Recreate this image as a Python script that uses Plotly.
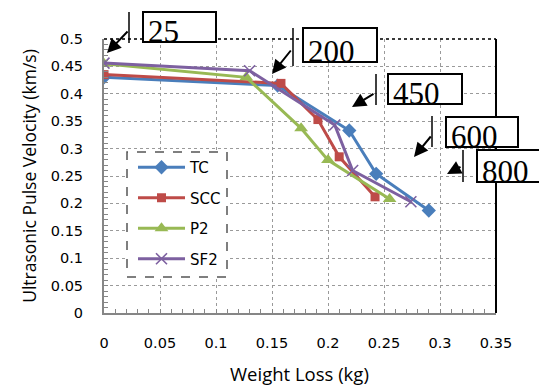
import plotly.graph_objects as go

# ---------------- data ----------------
series_names = ["TC", "SCC", "P2", "SF2"]
tc_x = [0, 0.155, 0.219, 0.243, 0.290]
tc_y = [0.430, 0.415, 0.333, 0.254, 0.187]
scc_x = [0, 0.158, 0.191, 0.210, 0.242]
scc_y = [0.435, 0.419, 0.353, 0.285, 0.212]
p2_x = [0, 0.127, 0.176, 0.200, 0.255]
p2_y = [0.455, 0.430, 0.337, 0.279, 0.208]
sf2_x = [0, 0.130, 0.206, 0.222, 0.274]
sf2_y = [0.456, 0.442, 0.343, 0.260, 0.203]

x_ticks = [0, 0.05, 0.1, 0.15, 0.2, 0.25, 0.3, 0.35]
x_tick_text = ["0", "0.05", "0.1", "0.15", "0.2", "0.25", "0.3", "0.35"]
y_ticks = [0, 0.05, 0.1, 0.15, 0.2, 0.25, 0.3, 0.35, 0.4, 0.45, 0.5]
y_tick_text = ["0", "0.05", "0.1", "0.15", "0.2", "0.25", "0.3", "0.35", "0.4", "0.45", "0.5"]

x_title = "Weight Loss (kg)"
y_title = "Ultrasonic Pulse Velocity (km/s)"
temp_labels = ["25", "200", "450", "600", "800"]

# ---------------- layout geometry (pixels) ----------------
W, H = 539, 385
PL, PR, PT, PB = 104, 496, 39, 313


def px(x):
    return (x - PL) / (PR - PL)


def py(y):
    return (PB - y) / (PB - PT)


colors = ["#4A7EBB", "#BE4B48", "#98B954", "#7D60A0"]
symbols = ["diamond", "square", "triangle-up", "x-thin"]
msizes = [11, 9, 12, 11]
xs = [tc_x, scc_x, p2_x, sf2_x]
ys = [tc_y, scc_y, p2_y, sf2_y]

fig = go.Figure()
for i, name in enumerate(series_names):
    mk = dict(symbol=symbols[i], size=msizes[i], color=colors[i])
    if symbols[i] == "x-thin":
        mk["line"] = dict(width=1.6, color=colors[i])
    fig.add_trace(go.Scatter(
        x=xs[i], y=ys[i], name=name, mode="lines+markers",
        line=dict(color=colors[i], width=3),
        marker=mk, legendgroup=name,
    ))

axis_font = dict(family="DejaVu Sans", size=14.5, color="#000000")

fig.update_xaxes(
    range=[0, 0.35], tickvals=x_ticks, ticktext=x_tick_text,
    showgrid=True, gridcolor="#9A9A9A", griddash="dot", gridwidth=1.3,
    showline=True, linecolor="#868686", linewidth=2,
    ticks="inside", ticklen=0, tickcolor="#868686",
    minor=dict(dtick=0.01, ticks="inside", ticklen=4, tickcolor="#868686", tickwidth=1, showgrid=False),
    tickfont=axis_font, ticklabelstandoff=16, zeroline=False,
    automargin=False,
)
fig.update_yaxes(
    range=[0, 0.5], tickvals=y_ticks, ticktext=y_tick_text,
    showgrid=True, gridcolor="#9A9A9A", griddash="dot", gridwidth=1.3,
    showline=True, linecolor="#868686", linewidth=2,
    ticks="inside", ticklen=0, tickcolor="#868686",
    minor=dict(dtick=0.01, ticks="inside", ticklen=4, tickcolor="#868686", tickwidth=1, showgrid=False),
    tickfont=axis_font, ticklabelstandoff=16, zeroline=False,
    title=dict(text=y_title, font=dict(family="Open Sans", size=17.5, color="#000"), standoff=10),
    automargin=False,
)

shapes = []
# plot frame: dotted top, solid black right
shapes.append(dict(type="line", xref="paper", yref="paper", x0=0, x1=1, y0=1, y1=1,
                   line=dict(color="#3A3A3A", width=2, dash="dot"), layer="above"))
shapes.append(dict(type="line", xref="paper", yref="paper", x0=1, x1=1, y0=0, y1=1,
                   line=dict(color="#000000", width=2), layer="above"))
# legend box (dashed, white fill)
shapes.append(dict(type="rect", xref="paper", yref="paper",
                   x0=px(127), x1=px(227), y0=py(277), y1=py(152),
                   line=dict(color="#555555", width=1.5, dash="dash"), fillcolor="white", layer="above"))

# temperature labels: box (left, top, right, bottom), marker line x, line top, line bottom, arrow tip, arrow tail
boxes = [(143, 12, 216, 42), (303, 28, 377, 62), (388, 74, 462, 104), (446, 117, 518, 147), (477, 150, 550, 182)]
vlines = [(129, 12, 43), (293, 28, 66), (376, 74, 105), (432, 116, 147), (463, 150, 182)]
arrows = [((107, 53), (129, 30)), ((272, 74), (292, 49)), ((352, 107), (375, 93)),
          ((414, 157), (432, 135)), ((447, 174), (462, 166))]

annotations = [dict(xref="paper", yref="paper", x=px(299), y=py(373.5), xanchor="center", yanchor="middle",
                    text=x_title, showarrow=False,
                    font=dict(family="Open Sans", size=18.5, color="#000"))]
for i, lab in enumerate(temp_labels):
    l, t, r, b = boxes[i]
    shapes.append(dict(type="rect", xref="paper", yref="paper", x0=px(l), x1=px(r), y0=py(b), y1=py(t),
                       line=dict(color="#000", width=2), fillcolor="white", layer="above"))
    vx, vt, vb = vlines[i]
    shapes.append(dict(type="line", xref="paper", yref="paper", x0=px(vx), x1=px(vx), y0=py(vb), y1=py(vt),
                       line=dict(color="#000", width=1.5), layer="above"))
    annotations.append(dict(xref="paper", yref="paper", x=px(l + 3), y=py(b - 10.5),
                            xanchor="left", yanchor="middle", text=lab, showarrow=False,
                            font=dict(family="Liberation Serif", size=31, color="#000")))
    (tx, ty), (sx, sy) = arrows[i]
    annotations.append(dict(xref="paper", yref="paper", x=px(tx), y=py(ty), ax=sx - tx, ay=sy - ty,
                            text="", showarrow=True, arrowhead=2, arrowsize=1.4, arrowwidth=2,
                            arrowcolor="#000"))

fig.update_layout(
    width=W, height=H,
    margin=dict(l=PL, r=W - PR, t=PT, b=H - PB, pad=0),
    paper_bgcolor="white", plot_bgcolor="white",
    shapes=shapes, annotations=annotations,
    showlegend=True,
    legend=dict(x=px(133), y=py(151), xanchor="left", yanchor="top",
                bgcolor="rgba(0,0,0,0)", borderwidth=0,
                font=dict(family="DejaVu Sans", size=15, color="#000"),
                tracegroupgap=8, itemwidth=47),
)

fig.write_html("out.html")
